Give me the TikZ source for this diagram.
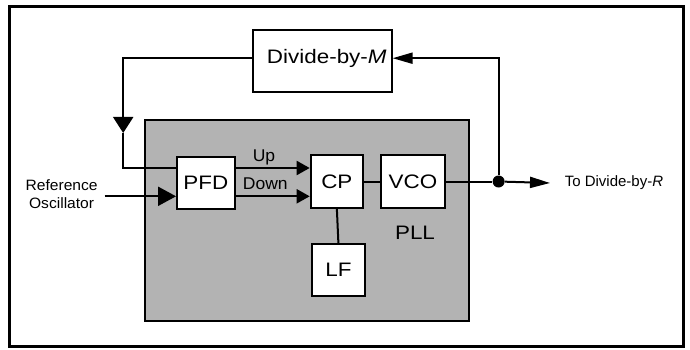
\documentclass[tikz,border=0pt]{standalone}
\usepackage{fontspec}
\setmainfont{Liberation Sans}
\usepackage{graphicx}
\usetikzlibrary{arrows.meta}
\newcommand\bigfnt{\fontsize{19.5}{22}\selectfont}
\newcommand\midfnt{\fontsize{17}{20}\selectfont}
\newcommand\smlfnt{\fontsize{15}{18}\selectfont}
\newcommand\sx[2]{\scalebox{#1}[1]{#2}}
\definecolor{pllgray}{RGB}{179,179,179}
\tikzset{
  blk/.style={draw, line width=2pt, fill=white, inner sep=0pt, font=\bigfnt},
  ln/.style={line width=2pt},
  txt/.style={inner sep=0pt},
  tipS/.style={-{Triangle[length=13pt,width=14pt]}},
  tipL/.style={-{Triangle[length=18pt,width=19pt]}},
  tipM/.style={-{Triangle[length=20pt,width=11pt]}},
  tipD/.style={-{Triangle[length=16pt,width=20pt]}}
}
\begin{document}
\begin{tikzpicture}[x=1pt,y=-1pt]
\useasboundingbox (0,0) rectangle (690,350);
\fill[white] (0,0) rectangle (690,350);
% outer frame
\draw[line width=3pt] (9,6.5) rectangle (683,346.5);
% PLL region
\node[draw, line width=2pt, fill=pllgray, inner sep=0pt, minimum width=323.4pt, minimum height=201.2pt] (pll) at (306.9,220.4) {};
\node[txt, font=\bigfnt] (plllbl) at (415,233) {\sx{1.15}{PLL}};
% blocks
\node[blk, minimum width=57.5pt, minimum height=51.6pt] (pfd) at (205.8,182.8) {\sx{1.15}{PFD}};
\node[blk, minimum width=52.3pt, minimum height=52.2pt] (cp) at (336.85,181.5) {\sx{1.15}{CP}};
\node[blk, minimum width=64.7pt, minimum height=52.2pt] (vco) at (413,181.5) {\sx{1.15}{VCO}};
\node[blk, minimum width=52.8pt, minimum height=51.8pt] (lf) at (338.4,270.1) {\sx{1.15}{LF}};
\node[blk, minimum width=138.6pt, minimum height=62.5pt,
      label={[txt, font=\bigfnt, xshift=4.5pt, yshift=2.7pt]center:\sx{1.15}{Divide-by-\textit{M}}}] (divm) at (322.3,61.25) {};
% helper coordinates
\coordinate (yup) at (0,168);
\coordinate (ydn) at (0,196.3);
\coordinate (yfb) at (0,58.2);
\coordinate (fbmid) at (123.2,133);
\coordinate (refout) at (104.7,196.3);
% texts
\node[txt, font=\smlfnt, align=center] (ref) at (61.6,194) {\sx{1.04}{Reference}\\\sx{1.04}{Oscillator}};
\node[txt, font=\midfnt] (uplbl) at (264,157) {\sx{1.03}{Up}};
\node[txt, font=\midfnt] (dnlbl) at (265.3,183.6) {\sx{1.03}{Down}};
\node[txt, font=\smlfnt, anchor=west] (todiv) at (564.6,183) {To Divide-by-\textit{R}};
% junction dot
\node[circle, fill, inner sep=0pt, minimum size=12pt] (dot) at (498.6,181.5) {};
% connectors
\draw[ln, tipL] (refout) -- (pfd.west |- refout);
\draw[ln, tipS] (pfd.east |- yup) -- (cp.west |- yup);
\draw[ln, tipS] (pfd.east |- ydn) -- (cp.west |- ydn);
\draw[ln] (cp.east) -- (vco.west);
\draw[ln] (cp.south) -- (lf.north);
\draw[ln] (vco.east) -- (dot);
\draw[ln, tipM] (dot) -- ([xshift=-14.6pt]todiv.west);
\draw[ln, tipM] (dot) -- (dot |- yfb) -- (divm.east |- yfb);
\draw[ln, tipD] (divm.west |- yfb) -| (fbmid);
\draw[ln] (fbmid) |- (pfd.west |- yup);
\end{tikzpicture}
\end{document}
